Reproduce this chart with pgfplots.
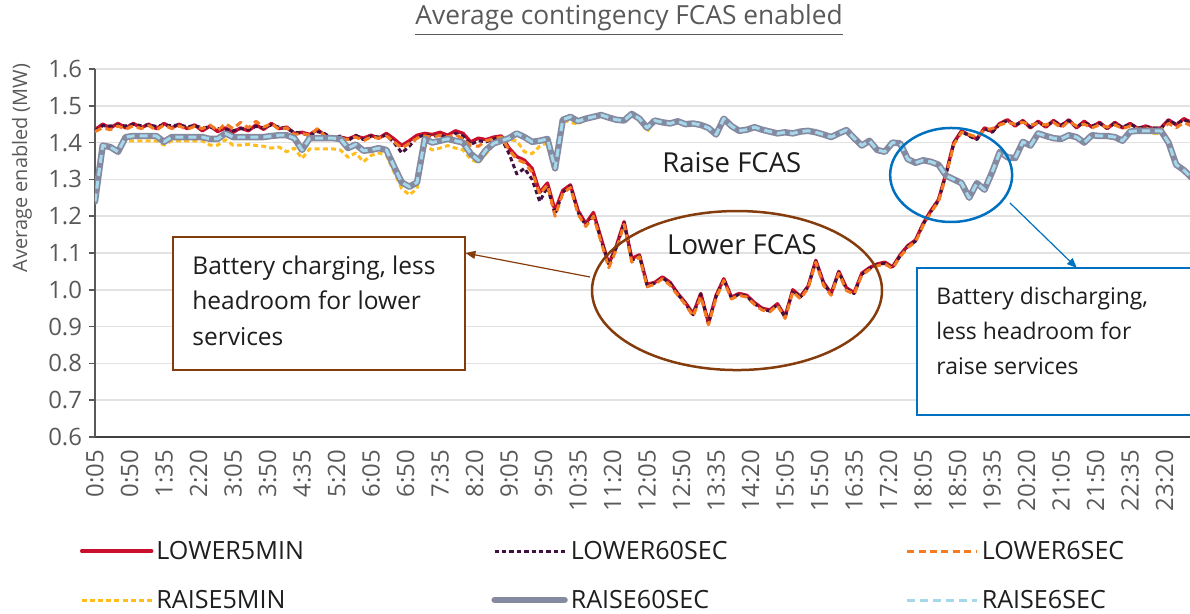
\documentclass[border=0pt]{standalone}
\usepackage{fontspec}
\setmainfont{Open Sans}
\usepackage{pgfplots}
\usepackage{pgfplotstable}
\pgfplotsset{compat=1.18}
\usetikzlibrary{arrows.meta}
\definecolor{cL5}{RGB}{200,16,46}
\definecolor{cL60}{RGB}{64,16,64}
\definecolor{cL6}{RGB}{244,123,32}
\definecolor{cR5}{RGB}{255,190,30}
\definecolor{cR60}{RGB}{134,138,160}
\definecolor{cR6}{RGB}{166,216,236}
\definecolor{gridc}{RGB}{226,226,226}
\definecolor{tickc}{RGB}{89,89,89}
\definecolor{brownc}{RGB}{132,60,12}
\definecolor{bluec}{RGB}{0,112,192}
\definecolor{textc}{RGB}{30,30,30}

\pgfplotstableread{
i L5 L60 L6 R5 R60 R6
0 1.435 1.432 1.430 1.240 1.240 1.240
2 1.450 1.446 1.440 1.392 1.392 1.392
4 1.440 1.445 1.435 1.388 1.388 1.388
6 1.452 1.448 1.445 1.375 1.375 1.375
8 1.440 1.445 1.436 1.405 1.415 1.415
10 1.452 1.450 1.446 1.405 1.418 1.418
12 1.440 1.446 1.438 1.405 1.418 1.418
14 1.450 1.448 1.446 1.405 1.418 1.418
16 1.438 1.444 1.434 1.405 1.418 1.418
18 1.452 1.448 1.448 1.393 1.402 1.402
20 1.440 1.446 1.438 1.405 1.415 1.415
22 1.450 1.448 1.445 1.405 1.415 1.415
24 1.438 1.443 1.436 1.405 1.415 1.415
26 1.448 1.446 1.444 1.405 1.415 1.415
28 1.432 1.440 1.438 1.405 1.415 1.415
30 1.445 1.442 1.448 1.393 1.410 1.410
32 1.430 1.438 1.432 1.393 1.410 1.410
34 1.440 1.436 1.452 1.408 1.425 1.425
36 1.428 1.432 1.438 1.393 1.415 1.415
38 1.440 1.438 1.455 1.393 1.415 1.415
40 1.432 1.436 1.440 1.395 1.415 1.415
42 1.448 1.444 1.458 1.392 1.415 1.415
44 1.436 1.440 1.442 1.390 1.415 1.415
46 1.452 1.448 1.452 1.385 1.418 1.418
48 1.438 1.442 1.436 1.388 1.420 1.420
50 1.442 1.438 1.440 1.375 1.420 1.420
52 1.425 1.428 1.422 1.385 1.412 1.412
54 1.428 1.426 1.425 1.357 1.380 1.380
56 1.422 1.418 1.420 1.383 1.412 1.412
58 1.435 1.430 1.438 1.383 1.412 1.412
60 1.420 1.424 1.418 1.383 1.412 1.412
62 1.412 1.410 1.410 1.383 1.412 1.412
64 1.415 1.418 1.412 1.380 1.410 1.410
66 1.410 1.405 1.408 1.360 1.385 1.385
68 1.418 1.420 1.415 1.372 1.395 1.395
70 1.412 1.408 1.405 1.348 1.378 1.378
72 1.420 1.418 1.415 1.365 1.380 1.380
74 1.412 1.415 1.412 1.372 1.385 1.385
76 1.425 1.420 1.418 1.365 1.380 1.380
78 1.410 1.400 1.402 1.320 1.335 1.335
80 1.392 1.372 1.385 1.275 1.292 1.292
82 1.405 1.390 1.398 1.258 1.280 1.280
84 1.420 1.415 1.412 1.275 1.292 1.292
86 1.425 1.420 1.418 1.392 1.410 1.410
88 1.422 1.418 1.415 1.380 1.400 1.400
90 1.428 1.420 1.420 1.385 1.405 1.405
92 1.420 1.412 1.415 1.392 1.410 1.410
94 1.432 1.425 1.422 1.385 1.405 1.405
96 1.425 1.418 1.410 1.380 1.400 1.400
98 1.402 1.395 1.392 1.355 1.370 1.370
100 1.412 1.405 1.390 1.345 1.352 1.352
102 1.408 1.402 1.405 1.370 1.380 1.380
104 1.415 1.410 1.410 1.395 1.398 1.398
106 1.418 1.412 1.415 1.405 1.405 1.405
108 1.385 1.370 1.380 1.408 1.412 1.412
110 1.362 1.315 1.355 1.405 1.425 1.425
112 1.352 1.330 1.345 1.375 1.415 1.415
114 1.330 1.300 1.320 1.370 1.402 1.402
116 1.265 1.240 1.260 1.390 1.405 1.405
118 1.290 1.280 1.285 1.400 1.410 1.410
120 1.215 1.205 1.200 1.330 1.330 1.330
122 1.270 1.265 1.262 1.462 1.462 1.462
124 1.285 1.282 1.278 1.455 1.470 1.470
126 1.215 1.210 1.205 1.450 1.458 1.458
128 1.180 1.175 1.172 1.465 1.465 1.465
130 1.210 1.205 1.200 1.470 1.470 1.470
132 1.140 1.135 1.130 1.475 1.475 1.475
134 1.070 1.068 1.060 1.468 1.468 1.468
136 1.120 1.115 1.110 1.462 1.462 1.462
138 1.185 1.182 1.178 1.460 1.460 1.460
140 1.085 1.080 1.075 1.478 1.478 1.478
142 1.095 1.092 1.090 1.465 1.465 1.465
144 1.015 1.012 1.008 1.430 1.440 1.440
146 1.020 1.018 1.015 1.460 1.460 1.460
148 1.035 1.032 1.030 1.455 1.455 1.455
150 1.020 1.018 1.012 1.452 1.452 1.452
152 0.990 0.988 0.985 1.458 1.458 1.458
154 0.965 0.962 0.960 1.450 1.450 1.450
156 0.935 0.932 0.928 1.452 1.452 1.452
158 0.990 0.988 0.982 1.448 1.448 1.448
160 0.910 0.908 0.905 1.440 1.440 1.440
162 0.985 0.982 0.978 1.422 1.422 1.422
164 1.030 1.028 1.025 1.465 1.465 1.465
166 0.980 0.978 0.975 1.445 1.445 1.445
168 0.990 0.988 0.985 1.432 1.432 1.432
170 0.985 0.982 0.980 1.435 1.435 1.435
172 0.965 0.962 0.960 1.442 1.442 1.442
174 0.950 0.948 0.945 1.435 1.435 1.435
176 0.945 0.942 0.940 1.430 1.430 1.430
178 0.962 0.960 0.958 1.425 1.425 1.425
180 0.928 0.925 0.922 1.428 1.428 1.428
182 1.000 0.998 0.995 1.425 1.425 1.425
184 0.982 0.980 0.975 1.430 1.430 1.430
186 1.010 1.008 1.005 1.432 1.432 1.432
188 1.080 1.078 1.075 1.428 1.428 1.428
190 1.020 1.018 1.012 1.422 1.422 1.422
192 0.990 0.988 0.985 1.415 1.415 1.415
194 1.050 1.048 1.045 1.425 1.425 1.425
196 1.005 1.002 0.998 1.434 1.434 1.434
198 0.992 0.990 0.988 1.412 1.412 1.412
200 1.045 1.042 1.040 1.392 1.392 1.392
202 1.060 1.058 1.055 1.405 1.405 1.405
204 1.070 1.068 1.065 1.380 1.380 1.380
206 1.075 1.072 1.070 1.375 1.375 1.375
208 1.062 1.060 1.058 1.400 1.400 1.400
210 1.095 1.092 1.090 1.398 1.398 1.398
212 1.120 1.118 1.115 1.355 1.355 1.355
214 1.135 1.132 1.130 1.345 1.345 1.345
216 1.180 1.178 1.175 1.352 1.352 1.352
218 1.215 1.212 1.210 1.348 1.348 1.348
220 1.245 1.242 1.240 1.340 1.340 1.340
222 1.318 1.315 1.312 1.310 1.310 1.310
224 1.400 1.398 1.395 1.300 1.300 1.300
226 1.432 1.430 1.428 1.290 1.290 1.290
228 1.420 1.418 1.422 1.250 1.250 1.250
230 1.410 1.408 1.415 1.290 1.290 1.290
232 1.440 1.438 1.435 1.272 1.272 1.272
234 1.430 1.428 1.438 1.320 1.320 1.320
236 1.452 1.450 1.448 1.375 1.375 1.375
238 1.462 1.460 1.455 1.360 1.360 1.360
240 1.445 1.448 1.450 1.358 1.358 1.358
242 1.460 1.458 1.455 1.402 1.402 1.402
244 1.440 1.442 1.448 1.392 1.392 1.392
246 1.458 1.455 1.452 1.425 1.425 1.425
248 1.442 1.445 1.448 1.418 1.418 1.418
250 1.460 1.458 1.455 1.412 1.412 1.412
252 1.445 1.448 1.440 1.410 1.410 1.410
254 1.462 1.460 1.458 1.420 1.420 1.420
256 1.440 1.442 1.445 1.415 1.415 1.415
258 1.458 1.455 1.450 1.400 1.400 1.400
260 1.442 1.445 1.440 1.420 1.420 1.420
262 1.455 1.452 1.448 1.418 1.418 1.418
264 1.438 1.440 1.442 1.418 1.418 1.418
266 1.455 1.452 1.448 1.415 1.415 1.415
268 1.440 1.442 1.438 1.405 1.405 1.405
270 1.452 1.450 1.445 1.430 1.430 1.430
272 1.438 1.440 1.436 1.432 1.432 1.432
274 1.445 1.442 1.440 1.432 1.432 1.432
276 1.438 1.440 1.432 1.425 1.432 1.432
278 1.440 1.438 1.435 1.425 1.432 1.432
280 1.462 1.460 1.452 1.400 1.400 1.400
282 1.448 1.450 1.440 1.340 1.340 1.340
284 1.465 1.462 1.455 1.325 1.325 1.325
286 1.455 1.452 1.445 1.305 1.305 1.305
}\datatable

\begin{document}
\begin{tikzpicture}
\begin{axis}[
  scale only axis, width=547.5bp, height=184bp,
  xmin=0, xmax=285.6, ymin=0.6, ymax=1.6,
  axis x line*=bottom, axis y line*=left,
  x axis line style={-, draw=black!75, line width=1bp},
  y axis line style={-, draw=tickc, line width=0.75bp},
  ytick={0.6,0.7,0.8,0.9,1.0,1.1,1.2,1.3,1.4,1.5,1.6},
  ytick pos=left, tick align=outside,
  major tick length=3bp,
  y tick style={draw=tickc, line width=0.75bp},
  x tick style={draw=none},
  xtick={0,9,...,279},
  xticklabels={0:05,0:50,1:35,2:20,3:05,3:50,4:35,5:20,6:05,6:50,7:35,8:20,9:05,9:50,10:35,11:20,12:05,12:50,13:35,14:20,15:05,15:50,16:35,17:20,18:05,18:50,19:35,20:20,21:05,21:50,22:35,23:20},
  x tick label style={rotate=90, anchor=east, font=\fontsize{12}{14}\selectfont, text=tickc},
  y tick label style={font=\fontsize{12}{14}\selectfont, text=tickc, /pgf/number format/.cd, fixed, fixed zerofill, precision=1, assume math mode=true},
  ymajorgrids, grid style={draw=gridc, line width=0.8bp},
  every axis title shift=0pt,
  title={\underline{Average contingency FCAS enabled}},
  title style={at={(axis description cs:0.4877,1.133)}, anchor=center, font=\fontsize{13.2}{15}\selectfont, text=tickc},
  ylabel={Average enabled (MW)},
  ylabel style={at={(axis description cs:-0.0667,0.731)}, anchor=center, font=\fontsize{10}{12}\selectfont, text=tickc},
  legend columns=3,
  legend style={draw=none, fill=none, at={(axis description cs:-0.0137,-0.2867)}, anchor=north west,
     inner sep=0pt, outer sep=0pt, column sep=0pt, row sep=16bp,
     font=\fontsize{12.6}{14}\selectfont, text=textc,
     nodes={inner sep=0pt, text height=8.5bp, text depth=0pt}},
  legend cell align=left,
  legend image code/.code={\draw[#1] (0bp,0bp) -- (35bp,0bp);},
  every axis plot/.append style={line join=round},
  clip=true,
]
\addplot[cL5, line width=1.7bp, line cap=round] table[x=i, y=L5] {\datatable};
\addlegendentry{\makebox[169bp][l]{\hspace{1.5bp}LOWER5MIN}}
\addplot[cL60, line width=1.5bp, dash pattern=on 2.2bp off 1.5bp] table[x=i, y=L60] {\datatable};
\addlegendentry{\makebox[169bp][l]{\hspace{1.5bp}LOWER60SEC}}
\addplot[cL6, line width=1.5bp, dash pattern=on 3.5bp off 2.2bp] table[x=i, y=L6] {\datatable};
\addlegendentry{\makebox[120bp][l]{\hspace{1.5bp}LOWER6SEC}}
\addplot[cR5, line width=1.5bp, dash pattern=on 2.5bp off 1.6bp] table[x=i, y=R5] {\datatable};
\addlegendentry{\makebox[169bp][l]{\hspace{1.5bp}RAISE5MIN}}
\addplot[cR60, line width=3.2bp, line cap=round] table[x=i, y=R60] {\datatable};
\addlegendentry{\makebox[169bp][l]{\hspace{1.5bp}RAISE60SEC}}
\addplot[cR6, line width=1.5bp, dash pattern=on 4bp off 2.5bp] table[x=i, y=R6] {\datatable};
\addlegendentry{\makebox[120bp][l]{\hspace{1.5bp}RAISE6SEC}}

% annotations
\node[text=textc, font=\fontsize{13.8}{16}\selectfont] at (axis cs:166.1,1.347) {Raise FCAS};
\draw[brownc, line width=1.25bp] (axis cs:167.45,0.998) ellipse [x radius=72.5bp, y radius=39.75bp];
\node[text=textc, font=\fontsize{13.8}{16}\selectfont] at (axis cs:168.75,1.122) {Lower FCAS};
\draw[brownc, line width=1.25bp, fill=white] (axis cs:20.3,1.1435) rectangle (axis cs:96.5,0.782);
\node[anchor=north west, align=left, inner sep=0pt, text=textc, font=\fontsize{12.3}{18}\selectfont] at (axis cs:25.3,1.0946) {Battery charging, less\\headroom for lower\\services};
\draw[brownc, line width=0.6bp, -{Triangle[length=5bp, width=4bp]}] (axis cs:129.1,1.0348) -- (axis cs:96.6,1.1);
\draw[bluec, line width=1.25bp] (axis cs:223.3,1.312) ellipse [x radius=30.5bp, y radius=23.5bp];
\draw[bluec, line width=0.6bp, -{Triangle[length=5bp, width=4bp]}] (axis cs:238.65,1.2359) -- (axis cs:256.1,1.0592);
\draw[bluec, line width=1bp, fill=white] (axis cs:214.4,1.059) rectangle (axis cs:290,0.66);
\node[anchor=north west, align=left, inner sep=0pt, text=textc, font=\fontsize{11.5}{17.5}\selectfont] at (axis cs:219.35,1.0076) {Battery discharging,\\less headroom for\\raise services};
\end{axis}
\pgfresetboundingbox
\useasboundingbox (-47.5bp,-88.5bp) rectangle (547.5bp,218.5bp);
\end{tikzpicture}
\end{document}
